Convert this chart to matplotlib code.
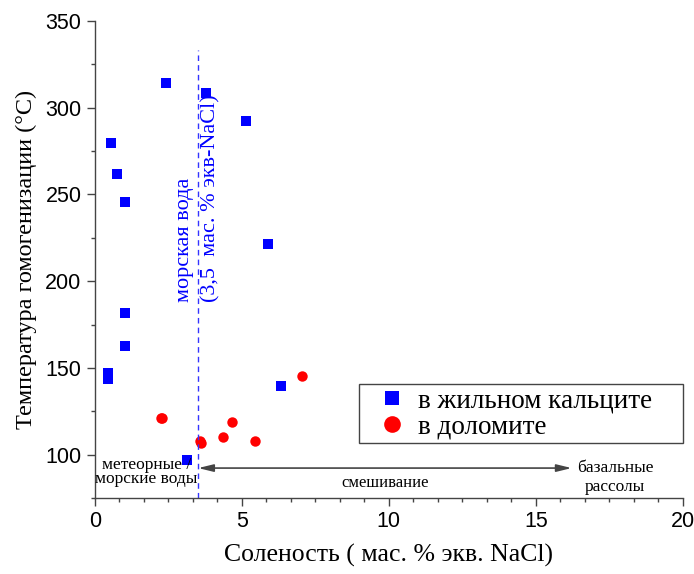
import matplotlib
matplotlib.use('Agg')
import matplotlib.pyplot as plt
from matplotlib.patches import Rectangle
from matplotlib.ticker import MultipleLocator, AutoMinorLocator

# salinity (wt.% NaCl eq.) and homogenization temperature (C)
calcite_salinity = [2.43, 3.79, 5.15, 0.55, 0.76, 1.03, 5.90, 1.03, 1.03, 0.46, 0.46, 6.34, 3.14]
calcite_temp     = [314.1, 308.4, 292.2, 279.6, 261.8, 245.7, 221.4, 181.8, 162.8, 147.2, 143.8, 139.7, 97.1]

dolomite_salinity = [2.25, 2.30, 3.58, 3.60, 4.36, 4.68, 5.44, 7.06]
dolomite_temp     = [121.2, 121.0, 108.2, 106.9, 110.3, 118.9, 108.0, 145.2]

seawater_salinity = 3.5

serif = 'Liberation Serif'
sans = 'Liberation Sans'

fig = plt.figure(figsize=(6.94, 5.74), dpi=100)
ax = fig.add_axes([0.1365, 0.1319, 0.8473, 0.832])

ax.plot(calcite_salinity, calcite_temp, 's', color='#0000ff', markersize=6.5,
        markeredgewidth=0, label='в жильном кальците')
ax.plot(dolomite_salinity, dolomite_temp, 'o', color='#ff0000', markersize=7.5,
        markeredgewidth=0, label='в доломите')

# seawater line
ax.plot([seawater_salinity, seawater_salinity], [75, 333], color='#3333ff',
        linestyle=(0, (4, 3)), linewidth=1)
ax.text(3.04, 188, 'морская вода', rotation=90, color='#0000ff',
        fontsize=16, family=serif, ha='center', va='bottom')
ax.text(3.96, 188, '(3,5  мас. % экв-NaCl)', rotation=90, color='#0000ff',
        fontsize=16, family=serif, ha='center', va='bottom')

# mixing arrow
ax.annotate('', xy=(3.52, 92.4), xytext=(16.22, 92.4),
            arrowprops=dict(arrowstyle='<|-|>,head_length=0.9,head_width=0.22',
                            color='#444444', lw=1.2, mutation_scale=10,
                            shrinkA=0, shrinkB=0))
ax.text(1.76, 90.1, 'метеорные /\nморские воды', fontsize=12.5, family=serif,
        ha='center', va='center', multialignment='center', linespacing=0.85)
ax.text(9.86, 84.0, 'смешивание', fontsize=12, family=serif, ha='center', va='center')
ax.text(17.7, 87.0, 'базальные\nрассолы', fontsize=12.5, family=serif,
        ha='center', va='center', multialignment='center', linespacing=1.2)

ax.set_xlim(0, 20)
ax.set_ylim(75, 350)
ax.xaxis.set_major_locator(MultipleLocator(5))
ax.xaxis.set_minor_locator(AutoMinorLocator(6))
ax.yaxis.set_minor_locator(MultipleLocator(25))
ax.set_yticks([100, 150, 200, 250, 300, 350])

for s in ['top', 'right']:
    ax.spines[s].set_visible(False)
for s in ['left', 'bottom']:
    ax.spines[s].set_color('#444444')
    ax.spines[s].set_linewidth(1)
ax.tick_params(which='major', direction='out', length=6, width=1, color='#444444',
               labelsize=15.5)
ax.tick_params(which='minor', direction='out', length=3, width=1, color='#444444')
for lab in ax.get_xticklabels() + ax.get_yticklabels():
    lab.set_family(sans)

ax.set_xlabel('Соленость ( мас. % экв. NaCl)', fontsize=18.5, family=serif, labelpad=8)
ax.set_ylabel('Температура гомогенизации (°C)', fontsize=17.5, family=serif, labelpad=6)

# legend frame drawn separately so the padding can match
ax.add_patch(Rectangle((0.4495, 0.1158), 0.5505, 0.1239, transform=ax.transAxes,
                       fill=False, edgecolor='#444444', linewidth=1, clip_on=False,
                       zorder=5))
leg = ax.legend(loc='center left', bbox_to_anchor=(0.4827, 0.1765),
                prop={'family': serif, 'size': 19.5}, frameon=False,
                markerscale=1.6, handletextpad=0.46, borderpad=0,
                labelspacing=0.05, handlelength=1.0, borderaxespad=0)

fig.savefig('out.png', dpi=100)
